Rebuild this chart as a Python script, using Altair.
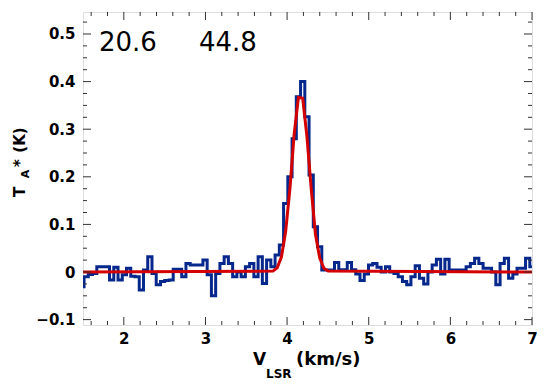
import altair as alt
import pandas as pd

# ---------------- data ----------------
v_start = 1.487      # centre of first channel (km/s)
dv = 0.052           # channel width (km/s)
t_spec = [
    -0.031, -0.010, -0.005, -0.003, 0.011, 0.011, 0.011, -0.017, 0.010, -0.017,
    -0.006, 0.008, -0.009, -0.010, -0.038, 0.004, 0.032, -0.003, -0.027, -0.020,
    -0.018, -0.017, 0.006, 0.006, -0.010, 0.018, 0.015, 0.015, 0.015, 0.025,
    -0.006, -0.050, -0.003, 0.018, 0.032, 0.018, -0.010, 0.000, -0.010, 0.011,
    0.018, -0.010, 0.032, -0.024, 0.025, 0.011, 0.036, 0.057, 0.144, 0.200,
    0.280, 0.368, 0.400, 0.326, 0.204, 0.095, 0.053, 0.004, 0.004, 0.004,
    0.020, 0.005, 0.005, 0.020, 0.005, -0.004, -0.018, -0.004, 0.015, 0.018,
    0.010, 0.000, 0.011, 0.000, -0.003, -0.010, -0.020, -0.027, -0.010, 0.013,
    -0.013, -0.025, 0.000, 0.015, 0.027, -0.004, 0.027, 0.004, 0.004, 0.004,
    0.004, 0.011, 0.018, 0.029, 0.018, 0.008, 0.008, 0.000, -0.027, 0.018,
    0.029, -0.013, -0.004, 0.008, 0.008, 0.029, 0.011,
]
v_spec = [round(v_start + dv * i, 4) for i in range(len(t_spec))]

# Gaussian fit, read at channel centres 45..58, baseline zero elsewhere
fit_first = 45
fit_core = [0.002, 0.009, 0.032, 0.086, 0.176, 0.290, 0.367, 0.365, 0.285,
            0.176, 0.080, 0.030, 0.008, 0.002]
fit_v = [1.5] + [round(v_start + dv * (fit_first + i), 4) for i in range(len(fit_core))] + [7.0]
fit_t = [0.0] + fit_core + [0.0]

x_major = [2, 3, 4, 5, 6, 7]
x_minor = [1.6, 1.8, 2.2, 2.4, 2.6, 2.8, 3.2, 3.4, 3.6, 3.8, 4.2, 4.4, 4.6, 4.8,
           5.2, 5.4, 5.6, 5.8, 6.2, 6.4, 6.6, 6.8]
y_major = [-0.1, 0.0, 0.1, 0.2, 0.3, 0.4, 0.5]
y_minor = [-0.075, -0.05, -0.025, 0.025, 0.05, 0.075, 0.125, 0.15, 0.175,
           0.225, 0.25, 0.275, 0.325, 0.35, 0.375, 0.425, 0.45, 0.475, 0.525]
notes = ["20.6", "44.8"]

# ---------------- layout ----------------
W, H = 449, 313
FRAME = "#333333"
BLUE = "#06288c"
RED = "#d40000"
LABEL_FONT = "DejaVu Sans"

x_scale = alt.Scale(domain=[1.5, 7.0], nice=False, zero=False)
y_scale = alt.Scale(domain=[-0.1113, 0.5462], nice=False, zero=False)

x_axis = alt.Axis(values=x_major, format="d", ticks=False, domain=False, grid=False,
                  labelPadding=6, labelFontSize=15, labelFont=LABEL_FONT,
                  labelFontWeight="bold", labelColor="black", labelFlush=False, title=None)
y_axis = alt.Axis(values=y_major, format="~g", ticks=False, domain=False, grid=False,
                  labelPadding=8, labelFontSize=15, labelFont=LABEL_FONT,
                  labelFontWeight="bold", labelColor="black", labelFlush=False, title=None)

spec_df = pd.DataFrame({"v": v_spec, "t": t_spec})
fit_df = pd.DataFrame({"v": fit_v, "t": fit_t})

spectrum = alt.Chart(spec_df).mark_line(
    interpolate="step", color=BLUE, strokeWidth=3, clip=True, strokeJoin="miter"
).encode(
    x=alt.X("v:Q", scale=x_scale, axis=x_axis),
    y=alt.Y("t:Q", scale=y_scale, axis=y_axis),
)

fit = alt.Chart(fit_df).mark_line(color=RED, strokeWidth=3, clip=True).encode(
    x=alt.X("v:Q", scale=x_scale),
    y=alt.Y("t:Q", scale=y_scale),
)


def xticks(vals, y0, y1):
    return alt.Chart(pd.DataFrame({"v": vals})).mark_rule(color=FRAME, strokeWidth=1).encode(
        x=alt.X("v:Q", scale=x_scale), y=alt.value(y0), y2=alt.value(y1))


def yticks(vals, x0, x1):
    return alt.Chart(pd.DataFrame({"t": vals})).mark_rule(color=FRAME, strokeWidth=1).encode(
        y=alt.Y("t:Q", scale=y_scale), x=alt.value(x0), x2=alt.value(x1))


ticks = [
    xticks(x_major, H, H - 8), xticks(x_minor, H, H - 4),
    xticks(x_major, 0, 8), xticks(x_minor, 0, 4),
    yticks(y_major, 0, 8), yticks(y_minor, 0, 4),
    yticks(y_major, W, W - 8), yticks(y_minor, W, W - 4),
]

one = pd.DataFrame({"a": [0]})


def txt(s, x, y, size, weight="bold", angle=0, align="left", baseline="alphabetic", font=LABEL_FONT):
    kw = dict(text=s, fontSize=size, fontWeight=weight, font=font, color="black",
              align=align, baseline=baseline)
    if angle:
        kw["angle"] = angle
    return alt.Chart(one).mark_text(**kw).encode(x=alt.value(x), y=alt.value(y))


texts = [
    txt(notes[0], 16, 39, 26, weight="normal"),
    txt(notes[1], 116, 39, 26, weight="normal"),
    # x-axis title  V_LSR (km/s)
    txt("V", 170, 353, 17),
    txt("LSR", 183, 366, 12),
    txt("(km/s)", 213, 353, 18),
    # y-axis title  T_A* (K)  (rotated, reading upwards)
    txt("T", -58, 180, 15, angle=270, align="center"),
    txt("A", -54, 162, 11, angle=270, align="center"),
    txt("*", -58, 151, 15, angle=270, align="center"),
    txt("(K)", -58, 128, 15, angle=270, align="center"),
]

chart = alt.layer(spectrum, fit, *ticks, *texts).properties(
    width=W, height=H,
    autosize=alt.AutoSizeParams(type="none"),
    padding={"left": 75, "top": 4, "right": 5, "bottom": 56},
).configure_view(stroke=FRAME, strokeWidth=1).configure(background="white")

chart.save("out.html", embed_options={"renderer": "svg", "actions": False})
